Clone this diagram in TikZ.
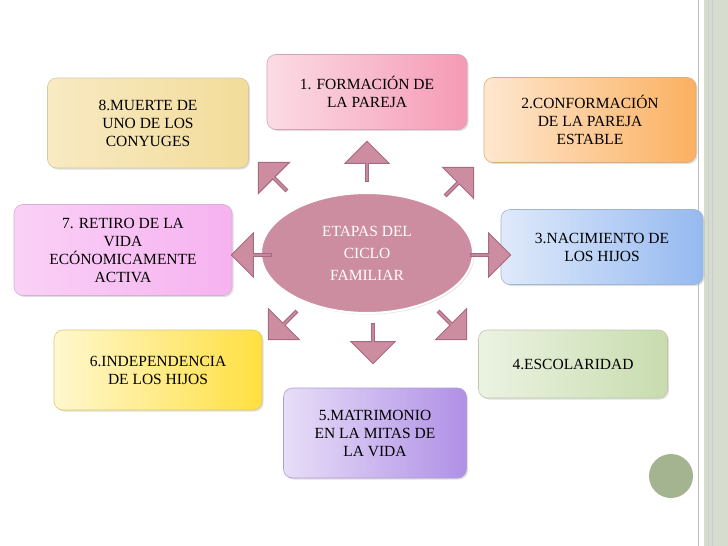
\documentclass[tikz,border=0pt]{standalone}
\usepackage{fontspec}
\setmainfont{Liberation Serif}
\usetikzlibrary{shapes.arrows,shapes.geometric,shadows}
\tikzset{
 stage/.style={draw=#1!80!black!70, rounded corners=9pt, line width=0.6pt, align=center,
   font=\fontsize{15.5}{18}\selectfont, drop shadow={opacity=0.25,shadow xshift=1.5pt,shadow yshift=-1.5pt}},
 barrow/.style={single arrow, draw=arrowline, fill=arrowfill, line width=1pt,
   minimum height=40pt, minimum width=44pt, single arrow head extend=7pt, inner sep=0pt, rotate=#1}
}
\definecolor{arrowfill}{HTML}{CC8DA1}
\definecolor{arrowline}{HTML}{A86A80}
\definecolor{stripe}{HTML}{D6DDCF}
\definecolor{dotc}{HTML}{A4B491}
\definecolor{b1}{HTML}{F59AB5}\definecolor{b2}{HTML}{FBB060}
\definecolor{b3}{HTML}{95B9F0}\definecolor{b4}{HTML}{C8DCAE}
\definecolor{b5}{HTML}{B090E6}\definecolor{b6}{HTML}{FFE040}
\definecolor{b7}{HTML}{F6B2F0}\definecolor{b8}{HTML}{F3DC9A}
\begin{document}
\begin{tikzpicture}[x=1pt,y=-1pt]
\useasboundingbox (0,0) rectangle (728,546);
\fill[white] (0,0) rectangle (728,546);
\fill[stripe] (704,0) rectangle (728,546);
\draw[gray!50,line width=0.8pt] (698,0) -- (698,546);
\draw[gray!40,line width=0.6pt] (708,0) -- (708,546);
\draw[gray!40,line width=0.6pt] (712,0) -- (712,546);
\node[circle,fill=dotc,minimum size=44pt] (dot) at (671,476) {};

\node[stage=b1,left color=b1!35,right color=b1,minimum width=200pt,minimum height=75pt] (s1) at (367,92) {1. FORMACIÓN DE\\LA PAREJA};
\node[stage=b2,left color=b2!30,right color=b2,minimum width=212pt,minimum height=85pt] (s2) at (590,120) {2.CONFORMACIÓN\\DE LA PAREJA\\ESTABLE};
\node[stage=b3,left color=b3!30,right color=b3,minimum width=202pt,minimum height=75pt] (s3) at (602,247) {3.NACIMIENTO DE\\LOS HIJOS};
\node[stage=b4,left color=b4!35,right color=b4,minimum width=189pt,minimum height=68pt] (s4) at (573,364) {4.ESCOLARIDAD};
\node[stage=b5,left color=b5!30,right color=b5,minimum width=183pt,minimum height=90pt] (s5) at (375,433) {5.MATRIMONIO\\EN LA MITAS DE\\LA VIDA};
\node[stage=b6,left color=b6!25,right color=b6,minimum width=208pt,minimum height=80pt] (s6) at (158,370) {6.INDEPENDENCIA\\DE LOS HIJOS};
\node[stage=b7,left color=b7!60,right color=b7,minimum width=218pt,minimum height=91pt] (s7) at (123,250) {7. RETIRO DE LA\\VIDA\\ECÓNOMICAMENTE\\ACTIVA};
\node[stage=b8,left color=b8!60,right color=b8,minimum width=201pt,minimum height=90pt] (s8) at (148,123) {8.MUERTE DE\\UNO DE LOS\\CONYUGES};

\node[ellipse,fill=arrowfill,draw=white,line width=2pt,minimum width=212pt,minimum height=120pt,
  text=white,align=center,font=\fontsize{15.5}{22}\selectfont,
  drop shadow={opacity=0.2,shadow xshift=1.5pt,shadow yshift=-1.5pt}] (c) at (367,253) {ETAPAS DEL\\CICLO\\FAMILIAR};

\node[barrow=90] (a1) at (367,162) {};
\node[barrow=45] (a2) at (459,182) {};
\node[barrow=0] (a3) at (490,255) {};
\node[barrow=-45] (a4) at (452,325) {};
\node[barrow=-90] (a5) at (373,343) {};
\node[barrow=-135] (a6) at (283,325) {};
\node[barrow=180] (a7) at (252,255) {};
\node[barrow=135] (a8) at (273,177) {};
\end{tikzpicture}
\end{document}
